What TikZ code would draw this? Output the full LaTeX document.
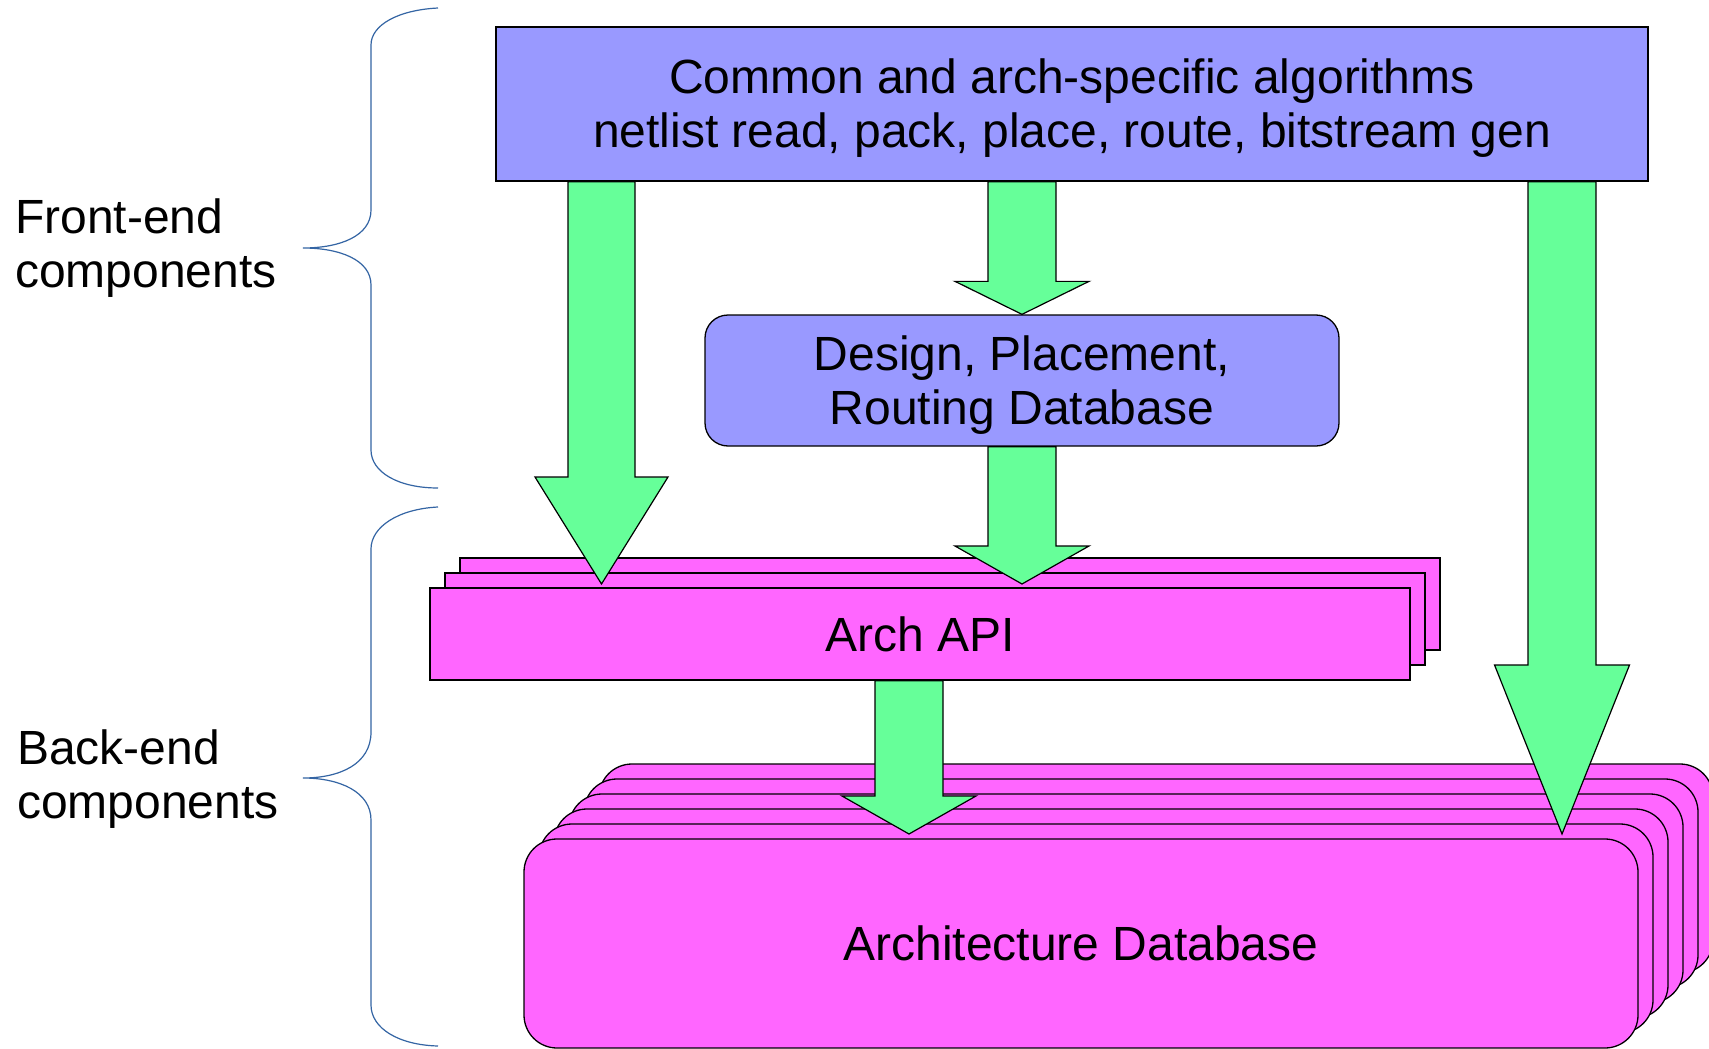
\documentclass[tikz,border=0pt]{standalone}
\usepackage{fontspec}
\setmainfont{Liberation Sans}
\usetikzlibrary{calc}

\definecolor{boxblue}{HTML}{9999FF}
\definecolor{arrowgreen}{HTML}{66FF99}
\definecolor{boxpink}{HTML}{FF66FF}
\definecolor{bracecol}{HTML}{3465A4}

\tikzset{
  lbl/.style={font=\fontsize{48}{54}\selectfont, align=center, inner sep=0pt},
  bluebox/.style={draw=black, line width=1.3pt, fill=boxblue, inner sep=0pt},
  pinkbox/.style={draw=black, line width=1.3pt, fill=boxpink, inner sep=0pt},
  barrow/.style={draw=black, line width=1.2pt, fill=arrowgreen, line join=miter},
  bracket/.style={draw=bracecol, line width=1.2pt},
  sidelabel/.style={font=\fontsize{48}{54}\selectfont, align=left, anchor=west, inner sep=0pt},
}

% block arrow: #1 start of shaft, #2 tip, #3 head length, #4 half shaft width, #5 half head width
\newcommand{\blockarrow}[5]{%
  \draw[barrow] let \p1=(#1), \p2=(#2) in
    (\x2-#4,\y1) -- (\x2-#4,\y2+#3) -- (\x2-#5,\y2+#3) -- (\x2,\y2)
    -- (\x2+#5,\y2+#3) -- (\x2+#4,\y2+#3) -- (\x2+#4,\y1) -- cycle;}

\begin{document}
\begin{tikzpicture}[x=1pt,y=-1pt]
\clip (0,0) rectangle (1709,1049);
\fill[white] (0,0) rectangle (1709,1049);

% side braces
\draw[bracket] (438,8) .. controls (398,10) and (371,25) .. (371,45)
  -- (371,210) .. controls (371,236) and (340,248) .. (303,248)
  .. controls (340,248) and (371,260) .. (371,285)
  -- (371,450) .. controls (371,472) and (398,488) .. (438,488);
\draw[bracket] (438,507) .. controls (398,509) and (371,527) .. (371,549)
  -- (371,732) .. controls (371,764) and (340,778) .. (303,778)
  .. controls (340,778) and (371,792) .. (371,820)
  -- (371,1005) .. controls (371,1028) and (398,1045) .. (438,1046);

% side labels
\node[sidelabel] (fe) at (15,248.5) {Front-end\\components};
\node[sidelabel] (be) at (17,779) {Back-end\\components};

% algorithms and design database
\node[bluebox, minimum width=1152pt, minimum height=154pt] (algo) at (1072,104) {};
\node[lbl] (algotext) at ($(algo.center)+(0,4.5)$)
  {Common and arch-specific algorithms\\netlist read, pack, place, route, bitstream gen};
\node[bluebox, rounded corners=23pt, minimum width=634pt, minimum height=131pt] (db) at (1022,380.5) {};
\node[lbl] (dbtext) at ($(db.center)+(0,4.5)$) {Design, Placement,\\Routing Database};

% Arch API stack
\foreach \k in {2,1}
  \node[pinkbox, minimum width=980pt, minimum height=92pt] (api\k) at (920+15*\k,634-15*\k) {};
\node[pinkbox, lbl, minimum width=980pt, minimum height=92pt] (api) at (920,634) {Arch API};

% Architecture database stack
\foreach \k in {5,4,3,2,1}
  \node[pinkbox, rounded corners=33pt, minimum width=1114pt, minimum height=209pt] (arch\k)
    at (1081+15*\k,943.5-15*\k) {};
\node[pinkbox, lbl, rounded corners=33pt, minimum width=1114pt, minimum height=209pt] (arch)
  at (1081,943.5) {Architecture Database};

% arrow tips
\coordinate (tipL) at (601.5,584);
\coordinate (tipM) at (1022,584);
\coordinate (tipA) at (909,834);
\coordinate (tipR) at (1562,834);

% block arrows
\blockarrow{algo.south -| tipL}{tipL}{107pt}{33.5pt}{66.5pt}
\blockarrow{algo.south -| db.north}{db.north}{33pt}{34pt}{67pt}
\blockarrow{db.south}{tipM}{38pt}{34pt}{67pt}
\blockarrow{api.south -| tipA}{tipA}{38pt}{34pt}{67pt}
\blockarrow{algo.south -| tipR}{tipR}{169pt}{34pt}{67.5pt}
\end{tikzpicture}
\end{document}
